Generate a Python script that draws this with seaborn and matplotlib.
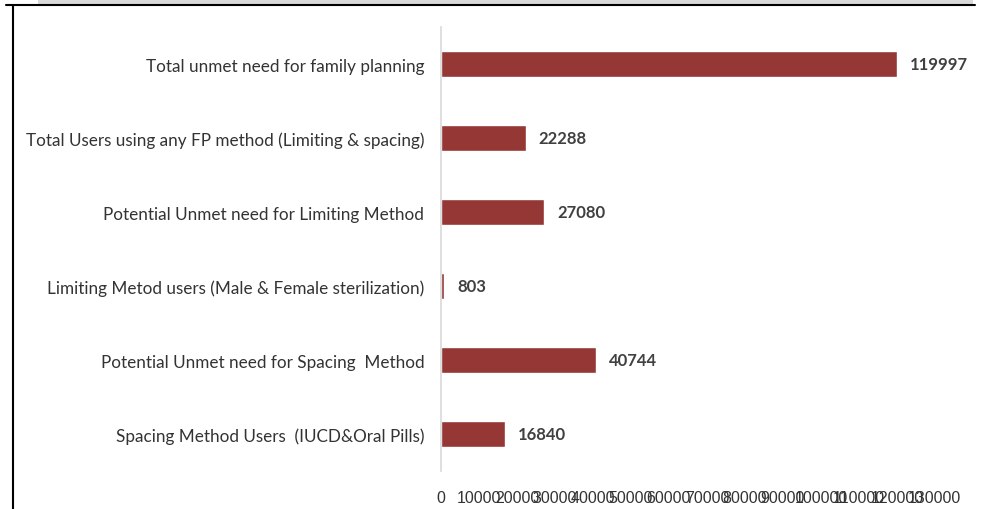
import matplotlib
matplotlib.use('Agg')
import matplotlib.pyplot as plt
import seaborn as sns
import pandas as pd
from matplotlib.lines import Line2D
from matplotlib.patches import Rectangle

# chart data
categories = [
    'Total unmet need for family planning',
    'Total Users using any FP method (Limiting & spacing)',
    'Potential Unmet need for Limiting Method',
    'Limiting Metod users (Male & Female sterilization)',
    'Potential Unmet need for Spacing  Method',
    'Spacing Method Users  (IUCD&Oral Pills)',
]
values = [119997, 22288, 27080, 803, 40744, 16840]
x_ticks = list(range(0, 130001, 10000))

df = pd.DataFrame({'category': categories, 'value': values})

sns.set_style('white')
plt.rcParams['font.family'] = ['Lato', 'DejaVu Sans']

fig = plt.figure(figsize=(9.82, 5.10), dpi=100)
ax = fig.add_axes([0.449, 0.0745, 0.503, 0.8705])

sns.barplot(data=df, y='category', x='value', color='#953735',
            width=0.35, saturation=1, ax=ax)

ax.set_xlim(0, 130000)
ax.set_xticks(x_ticks)
ax.set_xticklabels([str(t) for t in x_ticks], fontsize=11.5,
                   family='Liberation Sans', color='#333333')
ax.tick_params(axis='x', length=0, pad=14)
ax.tick_params(axis='y', length=0, pad=12, labelsize=12.3, labelcolor='#333333')
ax.set_xlabel('')
ax.set_ylabel('')

for s in ['top', 'right', 'bottom']:
    ax.spines[s].set_visible(False)
ax.spines['left'].set_color('#d9d9d9')
ax.spines['left'].set_linewidth(1.2)

# value labels
for i, v in enumerate(values):
    ax.annotate(str(v), (v, i), xytext=(9.5, 0), textcoords='offset points',
                ha='left', va='center', fontsize=12, fontweight='bold',
                color='#404040')

# frame pieces at top / left
fig.add_artist(Rectangle((38 / 982, 1 - 5 / 510), (973 - 38) / 982, 5 / 510,
                         transform=fig.transFigure, color='#d9d9d9', lw=0))
fig.add_artist(Line2D([6 / 982, 975 / 982], [1 - 6 / 510, 1 - 6 / 510],
                      transform=fig.transFigure, color='black', lw=1.5))
fig.add_artist(Line2D([13 / 982, 13 / 982], [0, 1 - 6 / 510],
                      transform=fig.transFigure, color='black', lw=1.5))

fig.savefig('out.png', dpi=100)
